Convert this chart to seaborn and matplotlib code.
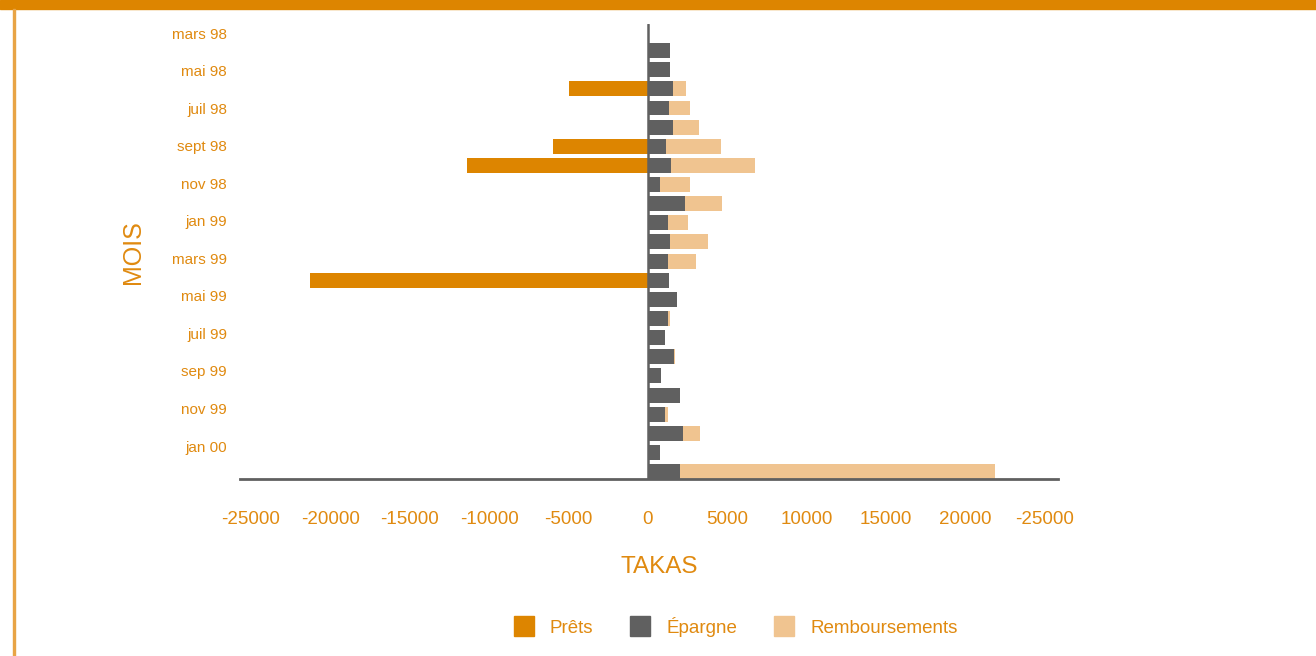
import matplotlib
matplotlib.use("Agg")
import matplotlib.pyplot as plt
from matplotlib.patches import Rectangle
from matplotlib.lines import Line2D
import seaborn as sns
import pandas as pd

# ---- data ----
mois = ["mars 98", "avr 98", "mai 98", "juin 98", "juil 98", "août 98", "sept 98",
        "oct 98", "nov 98", "déc 98", "jan 99", "fév 99", "mars 99", "avr 99",
        "mai 99", "juin 99", "juil 99", "août 99", "sep 99", "oct 99", "nov 99",
        "déc 99", "jan 00", "fév 00"]
prets = [0, 0, 0, -5000, 0, 0, -6000, -11400, 0, 0, 0, 0, 0, -21300,
         0, 0, 0, 0, 0, 0, 0, 0, 0, 0]
epargne = [0, 1390, 1390, 1570, 1320, 1570, 1140, 1450, 760, 2330, 1260, 1390, 1260, 1320,
           1830, 1260, 1070, 1640, 820, 2020, 1070, 2200, 760, 2020]
remboursements = [0, 0, 0, 820, 1320, 1640, 3460, 5290, 1890, 2330, 1260, 2390, 1760, 0,
                  0, 130, 0, 60, 0, 0, 190, 1070, 0, 19830]
tick_labels_y = ["mars 98", "mai 98", "juil 98", "sept 98", "nov 98", "jan 99",
                 "mars 99", "mai 99", "juil 99", "sep 99", "nov 99", "jan 00"]
x_ticks = [-25000, -20000, -15000, -10000, -5000, 0, 5000, 10000, 15000, 20000, 25000]
x_tick_labels = ["-25000", "-20000", "-15000", "-10000", "-5000", "0", "5000",
                 "10000", "15000", "20000", "-25000"]
series_names = ["Prêts", "Épargne", "Remboursements"]

df = pd.DataFrame({"mois": mois, "prets": prets, "epargne": epargne,
                   "remb": remboursements})
df["total"] = df["epargne"] + df["remb"]

# ---- style ----
C_ORANGE = "#DD8500"
C_GREY = "#606060"
C_BEIGE = "#F0C490"
C_TEXT = "#E08A10"

sns.set_style("white")
plt.rcParams["font.family"] = ["Liberation Sans", "DejaVu Sans"]

W, H = 1316, 656
fig = plt.figure(figsize=(W / 100, H / 100), dpi=100)
ax = fig.add_axes([240 / W, (H - 479) / H, (1058 - 240) / W, (479 - 24) / H])

bar_kw = dict(orient="h", width=0.78, saturation=1, errorbar=None, ax=ax,
              zorder=2, linewidth=0, edgecolor="none")
sns.barplot(data=df, y="mois", x="total", color=C_BEIGE, **bar_kw)
sns.barplot(data=df, y="mois", x="epargne", color=C_GREY, **bar_kw)
sns.barplot(data=df, y="mois", x="prets", color=C_ORANGE, **bar_kw)

ax.axvline(0, color=C_GREY, lw=1.8, zorder=3)

ax.set_xlim(-25692, 25818)
ax.set_ylim(23.385, -0.387)

# y ticks (every other month)
step = 19.14
ytick_pos = [(33 + 37.55 * k - 31.4) / step for k in range(len(tick_labels_y))]
ax.set_yticks(ytick_pos)
ax.set_yticklabels(tick_labels_y)
ax.set_xticks(x_ticks)
ax.set_xticklabels(x_tick_labels)
ax.tick_params(axis="y", length=0, pad=9.4, labelsize=11, labelcolor=C_TEXT)
ax.tick_params(axis="x", length=0, pad=23, labelsize=13.5, labelcolor=C_TEXT)

for s in ["top", "right", "left"]:
    ax.spines[s].set_visible(False)
ax.spines["bottom"].set_color(C_GREY)
ax.spines["bottom"].set_linewidth(2)
ax.spines["bottom"].set_zorder(4)

ax.set_xlabel("TAKAS", fontsize=17.5, color=C_TEXT)
ax.xaxis.label.set_verticalalignment("center")
ax.xaxis.set_label_coords((659 - 240) / (1058 - 240), (479 - 567) / (479 - 24))
ax.set_ylabel("MOIS", fontsize=18, color=C_TEXT)
ax.yaxis.label.set_verticalalignment("center")
ax.yaxis.set_label_coords((133 - 240) / (1058 - 240), (479 - 252) / (479 - 24))

# legend
handles = [Line2D([], [], marker="s", linestyle="none", markersize=14.4,
                  markerfacecolor=c, markeredgecolor=c)
           for c in [C_ORANGE, C_GREY, C_BEIGE]]
leg = fig.legend(handles, series_names, loc="center", bbox_to_anchor=(736 / W, 1 - 627 / H),
                 ncol=3, frameon=False, fontsize=13.5, handlelength=1.0,
                 handletextpad=0.9, columnspacing=2.0)
for t in leg.get_texts():
    t.set_color(C_TEXT)

# frame decorations: top band and left border
fig.patches.append(Rectangle((0, 1 - 9 / H), 1, 9 / H, transform=fig.transFigure,
                             color=C_ORANGE, zorder=0))
fig.patches.append(Rectangle((12.5 / W, 0), 2 / W, 1 - 9 / H, transform=fig.transFigure,
                             color="#E8A445", zorder=0))

fig.savefig("out.png", dpi=100, facecolor="white")
